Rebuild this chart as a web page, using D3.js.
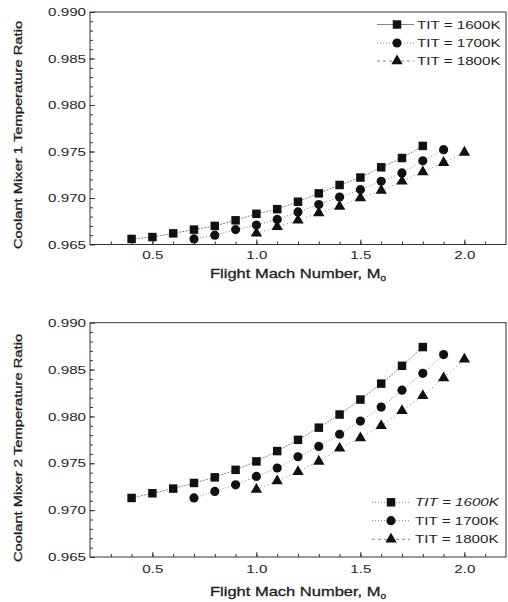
<!DOCTYPE html>
<html>
<head>
<meta charset="utf-8">
<script src="https://cdn.jsdelivr.net/npm/d3@7/dist/d3.min.js"></script>
<style>
  body { margin: 0; background: #fff; }
  text { font-family: "Liberation Sans", Arial, sans-serif; fill: #1e1e1e; }
</style>
</head>
<body>
<svg id="chart" width="508" height="602"></svg>
<script>
// flight mach numbers for each TIT series
var mach1600 = [0.4, 0.5, 0.6, 0.7, 0.8, 0.9, 1.0, 1.1, 1.2, 1.3, 1.4, 1.5, 1.6, 1.7, 1.8];
var mach1700 = [0.7, 0.8, 0.9, 1.0, 1.1, 1.2, 1.3, 1.4, 1.5, 1.6, 1.7, 1.8, 1.9];
var mach1800 = [1.0, 1.1, 1.2, 1.3, 1.4, 1.5, 1.6, 1.7, 1.8, 1.9, 2.0];

// coolant mixer 1 temperature ratio
var mixer1_1600 = [0.9656, 0.9658, 0.9662, 0.9666, 0.9670, 0.9676, 0.9683, 0.9688, 0.9696, 0.9705, 0.9714, 0.9722, 0.9733, 0.9743, 0.9756];
var mixer1_1700 = [0.9656, 0.9660, 0.9666, 0.9671, 0.9677, 0.9685, 0.9693, 0.9701, 0.9709, 0.9718, 0.9727, 0.9740, 0.9752];
var mixer1_1800 = [0.9662, 0.9669, 0.9676, 0.9684, 0.9691, 0.9700, 0.9708, 0.9718, 0.9728, 0.9738, 0.9749];

// coolant mixer 2 temperature ratio
var mixer2_1600 = [0.9713, 0.9718, 0.9723, 0.9729, 0.9735, 0.9743, 0.9752, 0.9763, 0.9775, 0.9788, 0.9802, 0.9818, 0.9835, 0.9854, 0.9874];
var mixer2_1700 = [0.9713, 0.9720, 0.9727, 0.9736, 0.9745, 0.9757, 0.9768, 0.9781, 0.9795, 0.9810, 0.9828, 0.9846, 0.9866];
var mixer2_1800 = [0.9722, 0.9731, 0.9741, 0.9752, 0.9766, 0.9777, 0.9790, 0.9806, 0.9822, 0.9841, 0.9861];

var legendLabels = ['TIT = 1600K', 'TIT = 1700K', 'TIT = 1800K'];
var xTicks = [0.5, 1.0, 1.5, 2.0];
var yTicks = [0.965, 0.970, 0.975, 0.980, 0.985, 0.990];

var SX = 1.32; // the scanned font is wide, stretch text along its run
var svg = d3.select('#chart');

var styles = [
    {symbol: d3.symbolSquare, size: 72, dash: '2,1.2'},
    {symbol: d3.symbolCircle, size: 66, dash: '1,2'},
    {symbol: d3.symbolTriangle, size: 56, dash: '1,3'}
];

function stretchText(sel) {
    sel.attr('transform', 'scale(' + SX + ',1)');
}

function drawPanel(opt) {
    var x = d3.scaleLinear().domain([0.2, 2.2]).range([90, 506]);
    var y = d3.scaleLinear().domain([0.965, 0.990]).range([opt.bottom, opt.top]);
    var g = svg.append('g');

    var series = [
        {xs: mach1600, ys: opt.values[0]},
        {xs: mach1700, ys: opt.values[1]},
        {xs: mach1800, ys: opt.values[2]}
    ];

    // minor ticks
    g.append('g').attr('transform', 'translate(0,' + opt.bottom + ')')
        .call(d3.axisBottom(x).tickValues(d3.range(3, 22).map(function (d) { return d / 10; }))
            .tickSizeInner(-3).tickSizeOuter(0).tickFormat(''))
        .call(function (a) { a.select('.domain').remove(); a.selectAll('line').attr('stroke', '#333'); });
    g.append('g').attr('transform', 'translate(90,0)')
        .call(d3.axisLeft(y).tickValues(d3.range(966, 990).map(function (d) { return d / 1000; }))
            .tickSizeInner(-3).tickSizeOuter(0).tickFormat(''))
        .call(function (a) { a.select('.domain').remove(); a.selectAll('line').attr('stroke', '#333'); });

    // major ticks + labels
    var xa = g.append('g').attr('transform', 'translate(0,' + opt.bottom + ')')
        .call(d3.axisBottom(x).tickValues(xTicks).tickSizeInner(-5).tickSizeOuter(0)
            .tickPadding(opt.xPad).tickFormat(d3.format('.1f')));
    var ya = g.append('g').attr('transform', 'translate(90,0)')
        .call(d3.axisLeft(y).tickValues(yTicks).tickSizeInner(-5).tickSizeOuter(0)
            .tickPadding(3).tickFormat(d3.format('.3f')));
    [xa, ya].forEach(function (a) {
        a.select('.domain').remove();
        a.selectAll('line').attr('stroke', '#333');
        a.selectAll('text').attr('font-size', 11.5).attr('fill', '#1e1e1e').attr('font-family', null).call(stretchText);
    });

    // frame
    g.append('rect').attr('x', 90).attr('y', opt.top)
        .attr('width', 416).attr('height', opt.bottom - opt.top)
        .attr('fill', 'none').attr('stroke', '#333').attr('stroke-width', 1);

    // connecting lines and markers
    var line = d3.line()
        .x(function (d) { return x(d[0]); })
        .y(function (d) { return y(d[1]); });
    series.forEach(function (s, i) {
        var pts = s.xs.map(function (v, k) { return [v, s.ys[k]]; });
        g.append('path').attr('d', line(pts)).attr('fill', 'none')
            .attr('stroke', '#666').attr('stroke-width', 0.8).attr('stroke-dasharray', styles[i].dash);
        g.selectAll(null).data(pts).enter().append('path')
            .attr('d', d3.symbol().type(styles[i].symbol).size(styles[i].size))
            .attr('transform', function (d) { return 'translate(' + x(d[0]) + ',' + y(d[1]) + ')'; })
            .attr('fill', '#111');
    });

    // y title
    g.append('g').attr('transform', 'translate(' + 22 + ',' + opt.yTitleMid + ') rotate(-90) scale(' + (SX - 0.07) + ',1)')
        .append('text').attr('text-anchor', 'middle').attr('font-size', 11.8)
        .attr('stroke', '#1e1e1e').attr('stroke-width', 0.3)
        .text(opt.yTitle);

    // x title
    var xt = g.append('g').attr('transform', 'translate(298,' + opt.xTitleY + ') scale(' + SX + ',1)')
        .append('text').attr('text-anchor', 'middle').attr('font-size', 12.5)
        .attr('stroke', '#1e1e1e').attr('stroke-width', 0.3);
    xt.append('tspan').text('Flight Mach Number, M');
    xt.append('tspan').attr('dy', 3).attr('font-size', 7.5).text('0');

    // legend
    var lg = opt.legend;
    legendLabels.forEach(function (label, i) {
        var ry = lg.rows[i];
        g.append('line').attr('x1', lg.x1).attr('x2', lg.x2).attr('y1', ry).attr('y2', ry)
            .attr('stroke', '#666').attr('stroke-width', 0.8)
            .attr('stroke-dasharray', lg.dash[i]);
        g.append('path').attr('d', d3.symbol().type(styles[i].symbol).size(styles[i].size))
            .attr('transform', 'translate(' + lg.mx + ',' + ry + ')').attr('fill', '#111');
        g.append('g').attr('transform', 'translate(' + lg.tx + ',' + (ry + 4) + ') scale(' + SX + ',1)')
            .append('text').attr('font-size', 11.5)
            .attr('font-style', lg.italic[i] ? 'italic' : null)
            .text(label);
    });
}

drawPanel({
    top: 12, bottom: 244.5,
    values: [mixer1_1600, mixer1_1700, mixer1_1800],
    yTitle: 'Coolant Mixer 1 Temperature Ratio',
    yTitleMid: 135,
    xPad: 6, xTitleY: 278,
    legend: {x1: 377, x2: 414, mx: 397, tx: 417, rows: [24.5, 43, 61],
        dash: [null, '1,2', '3,3'], italic: [false, false, false]}
});

drawPanel({
    top: 322.7, bottom: 557,
    values: [mixer2_1600, mixer2_1700, mixer2_1800],
    yTitle: 'Coolant Mixer 2 Temperature Ratio',
    yTitleMid: 448,
    xPad: 8, xTitleY: 596,
    legend: {x1: 372, x2: 410, mx: 391, tx: 415, rows: [502.3, 520.7, 539.3],
        dash: ['1,2', '1,2', '3,3'], italic: [true, false, false]}
});
</script>
</body>
</html>
